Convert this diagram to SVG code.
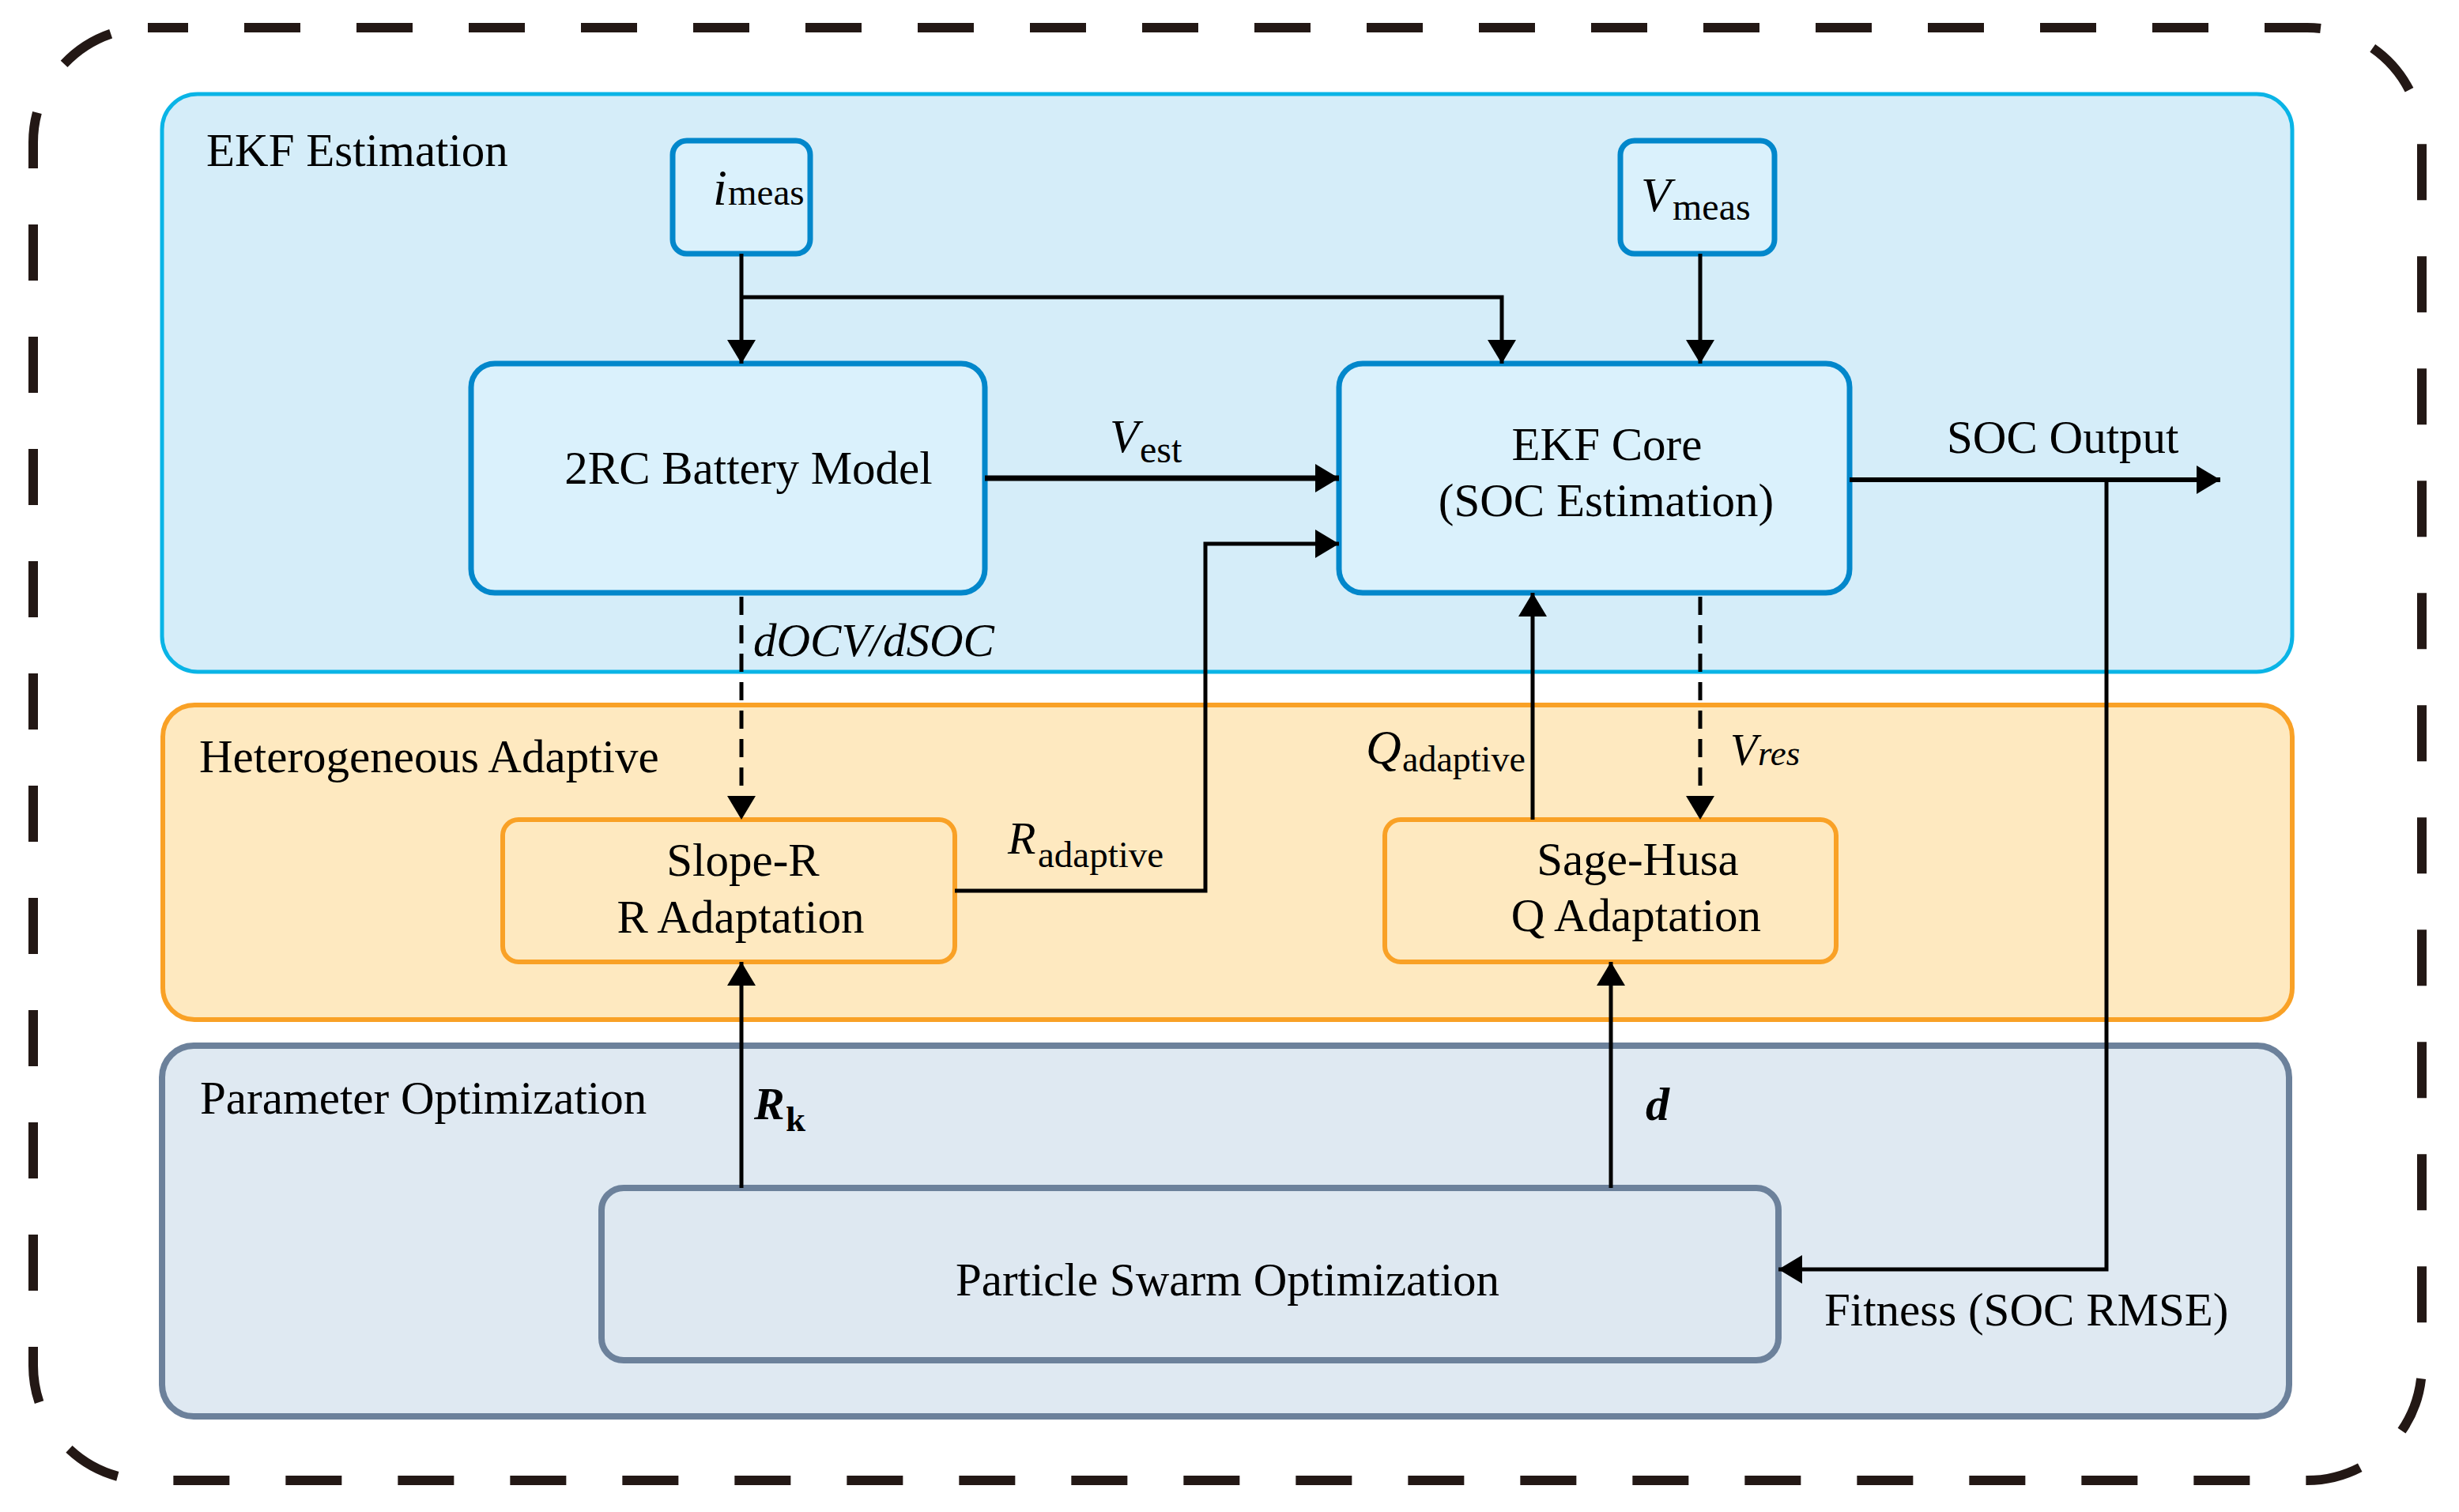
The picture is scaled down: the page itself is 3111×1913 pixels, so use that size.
<svg xmlns="http://www.w3.org/2000/svg" width="3111" height="1913" viewBox="0 0 3111 1913">
<defs>
<style>
text{font-family:"Liberation Serif","Times New Roman",serif;fill:#000}
.t{font-size:59px}
.c{text-anchor:middle}
.it{font-style:italic}
.panel-blue{fill:#d5edf9;stroke:#0ab4e6;stroke-width:5}
.panel-orange{fill:#fee9c0;stroke:#f9a126;stroke-width:6}
.panel-gray{fill:#dfe9f2;stroke:#6c819b;stroke-width:8}
.box-blue{fill:#daf1fc;stroke:#0287cb;stroke-width:7}
.box-orange{fill:#fee9c0;stroke:#f9a126;stroke-width:6}
.box-gray{fill:#dee8f1;stroke:#6c819b;stroke-width:8}
.ln{fill:none;stroke:#000;stroke-width:5}
.dash{stroke-dasharray:23 13}
</style>
<marker id="ah" markerUnits="userSpaceOnUse" markerWidth="32" markerHeight="36" refX="30" refY="18" orient="auto">
<path d="M0,0 L30,18 L0,36 z" fill="#000"/>
</marker>
</defs>
<rect width="3111" height="1913" fill="#fff"/>
<rect id="outer-frame" x="42" y="35" width="3022" height="1838" rx="145" ry="145" fill="none" stroke="#231815" stroke-width="12" stroke-dasharray="71 71" stroke-dashoffset="20"/>

<g id="panel-ekf">
<rect class="panel-blue" x="205" y="119" width="2695" height="731" rx="45"/>
<text class="t" x="261" y="210">EKF Estimation</text>
</g>
<g id="panel-adaptive">
<rect class="panel-orange" x="206" y="892" width="2694" height="398" rx="40"/>
<text class="t" x="252" y="977">Heterogeneous Adaptive</text>
</g>
<g id="panel-optim">
<rect class="panel-gray" x="205" y="1323" width="2691" height="469" rx="40"/>
<text class="t" x="253" y="1409">Parameter Optimization</text>
</g>

<g id="node-imeas">
<rect class="box-blue" x="851" y="178" width="174" height="143" rx="18"/>
<text x="902" y="259"><tspan class="it" style="font-size:64px">i</tspan><tspan x="921" style="font-size:47px">meas</tspan></text>
</g>
<g id="node-vmeas">
<rect class="box-blue" x="2050" y="178" width="195" height="143" rx="18"/>
<text x="2076" y="267"><tspan class="it" style="font-size:62px">V</tspan><tspan x="2116" y="278" style="font-size:48px">meas</tspan></text>
</g>
<g id="node-2rc">
<rect class="box-blue" x="596" y="460" width="650" height="290" rx="30"/>
<text class="t c" x="947" y="612">2RC Battery Model</text>
</g>
<g id="node-ekfcore">
<rect class="box-blue" x="1694" y="460" width="646" height="290" rx="30"/>
<text class="t c" x="2033" y="582">EKF Core</text>
<text class="t c" x="2032" y="653">(SOC Estimation)</text>
</g>
<g id="node-sloper">
<rect class="box-orange" x="636" y="1037" width="572" height="180" rx="20"/>
<text class="t c" x="940" y="1108">Slope-R</text>
<text class="t c" x="937" y="1180">R Adaptation</text>
</g>
<g id="node-sagehusa">
<rect class="box-orange" x="1752" y="1037" width="571" height="180" rx="20"/>
<text class="t c" x="2072" y="1107">Sage-Husa</text>
<text class="t c" x="2070" y="1178">Q Adaptation</text>
</g>
<g id="node-pso">
<rect class="box-gray" x="761" y="1503" width="1489" height="218" rx="28"/>
<text class="t c" x="1553" y="1639">Particle Swarm Optimization</text>
</g>

<g id="connectors">
<path class="ln" d="M938,321 V460" marker-end="url(#ah)"/>
<path class="ln" d="M938,376 H1900 V460" marker-end="url(#ah)"/>
<path class="ln" d="M2151,321 V460" marker-end="url(#ah)"/>
<path class="ln" d="M1246,605 H1694" style="stroke-width:7" marker-end="url(#ah)"/>
<path class="ln" d="M1208,1127 H1525 V688 H1694" marker-end="url(#ah)"/>
<path class="ln" d="M1939,1037 V750" marker-end="url(#ah)"/>
<path class="ln dash" d="M2151,755 V1037" marker-end="url(#ah)"/>
<path class="ln dash" d="M938,755 V1037" marker-end="url(#ah)"/>
<path class="ln" d="M2340,607 H2809" style="stroke-width:6" marker-end="url(#ah)"/>
<path class="ln" d="M2665,607 V1606 H2250" marker-end="url(#ah)"/>
<path class="ln" d="M938,1503 V1217" marker-end="url(#ah)"/>
<path class="ln" d="M2038,1503 V1217" marker-end="url(#ah)"/>
</g>

<g id="labels">
<text x="1404" y="572"><tspan class="it" style="font-size:60px">V</tspan><tspan x="1442" y="585" style="font-size:48px">est</tspan></text>
<text class="it" x="953" y="830" style="font-size:59px">dOCV/dSOC</text>
<text x="1275" y="1080"><tspan class="it" style="font-size:58px">R</tspan><tspan x="1313" y="1097" style="font-size:47px">adaptive</tspan></text>
<text x="1728" y="966"><tspan class="it" style="font-size:62px">Q</tspan><tspan x="1774" y="976" style="font-size:46px">adaptive</tspan></text>
<text class="it" x="2189" y="968"><tspan style="font-size:56px">V</tspan><tspan x="2224" style="font-size:45px">res</tspan></text>
<text class="t" x="2463" y="573">SOC Output</text>
<text x="954" y="1416"><tspan style="font-size:58px;font-weight:bold;font-style:italic">R</tspan><tspan x="994" y="1431" style="font-size:45px;font-weight:bold">k</tspan></text>
<text x="2082" y="1417" style="font-size:60px;font-weight:bold;font-style:italic">d</text>
<text class="t" x="2308" y="1677">Fitness (SOC RMSE)</text>
</g>
</svg>
